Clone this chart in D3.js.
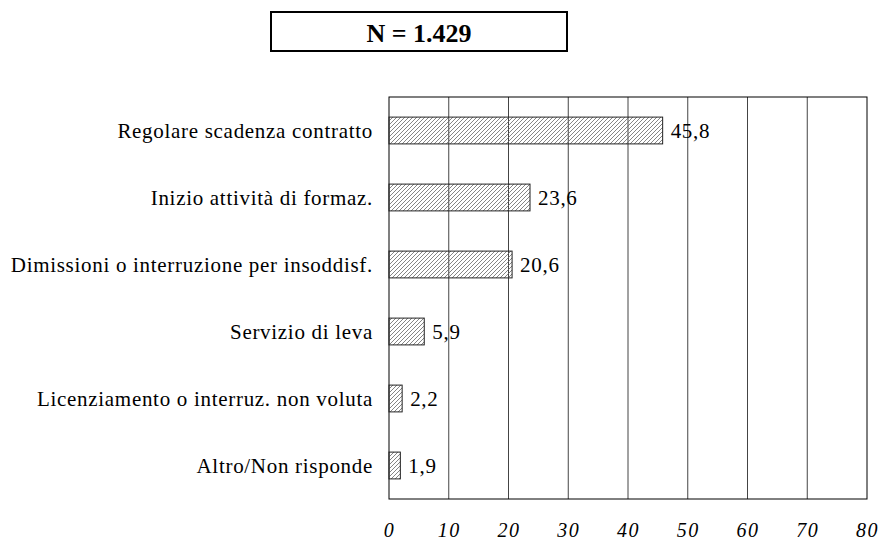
<!DOCTYPE html>
<html lang="en">
<head>
    <meta charset="UTF-8">
    <title>N = 1.429</title>
    <script src="https://d3js.org/d3.v7.min.js"></script>
    <style>
        body { margin: 0; background: #fff; }
    </style>
</head>
<body>
    <div id="chart"></div>
    <script>
        // Data
        var categories = [
            "Regolare scadenza contratto",
            "Inizio attività di formaz.",
            "Dimissioni o interruzione per insoddisf.",
            "Servizio di leva",
            "Licenziamento o interruz. non voluta",
            "Altro/Non risponde"
        ];
        var values = [45.8, 23.6, 20.6, 5.9, 2.2, 1.9];
        var ticks = [0, 10, 20, 30, 40, 50, 60, 70, 80];
        var title = "N = 1.429";

        var serif = "'Liberation Serif', 'Times New Roman', serif";

        var margin = { top: 97, right: 15, bottom: 41, left: 389 },
            W = 882, H = 540,
            width = W - margin.left - margin.right,
            height = H - margin.top - margin.bottom;

        var root = d3.select("#chart").append("svg")
            .attr("width", W)
            .attr("height", H);

        // hatch pattern
        var defs = root.append("defs");
        defs.append("pattern")
            .attr("id", "hatch")
            .attr("patternUnits", "userSpaceOnUse")
            .attr("width", 4)
            .attr("height", 4)
            .append("path")
            .attr("d", "M-1,1 l2,-2 M0,4 l4,-4 M3,5 l2,-2")
            .attr("stroke", "#666")
            .attr("stroke-width", 0.8);

        // title box
        root.append("rect")
            .attr("x", 271).attr("y", 12)
            .attr("width", 296).attr("height", 39)
            .attr("fill", "none")
            .attr("stroke", "#000")
            .attr("stroke-width", 2);
        root.append("text")
            .attr("x", 419).attr("y", 42)
            .attr("text-anchor", "middle")
            .style("font-family", serif)
            .style("font-size", "26px")
            .style("font-weight", "bold")
            .text(title);

        var svg = root.append("g")
            .attr("transform", "translate(" + margin.left + "," + margin.top + ")");

        var x = d3.scaleLinear().domain([0, 80]).range([0, width]);
        var y = d3.scaleBand().domain(categories).range([0, height]).paddingInner(0.6).paddingOuter(0.3);

        // gridlines
        svg.append("g")
            .selectAll("line")
            .data(ticks.slice(1, -1))
            .enter()
            .append("line")
            .attr("x1", d => x(d)).attr("x2", d => x(d))
            .attr("y1", 0).attr("y2", height)
            .attr("stroke", "#444")
            .attr("stroke-width", 1);

        // plot border
        svg.append("rect")
            .attr("width", width).attr("height", height)
            .attr("fill", "none")
            .attr("stroke", "#000")
            .attr("stroke-width", 1);

        // bars
        svg.append("g")
            .selectAll("rect")
            .data(values)
            .enter()
            .append("rect")
            .attr("x", x(0))
            .attr("y", (d, i) => y(categories[i]))
            .attr("width", d => x(d) - x(0))
            .attr("height", y.bandwidth())
            .attr("fill", "url(#hatch)")
            .attr("stroke", "#222")
            .attr("stroke-width", 1);

        // value labels
        svg.append("g")
            .selectAll("text")
            .data(values)
            .enter()
            .append("text")
            .attr("x", d => x(d) + 8)
            .attr("y", (d, i) => y(categories[i]) + y.bandwidth() / 2)
            .attr("dy", "0.35em")
            .style("font-family", serif)
            .style("font-size", "21px")
            .style("letter-spacing", "0.7px")
            .text(d => String(d).replace(".", ","));

        // category labels
        svg.append("g")
            .selectAll("text")
            .data(categories)
            .enter()
            .append("text")
            .attr("x", -16)
            .attr("y", d => y(d) + y.bandwidth() / 2)
            .attr("dy", "0.35em")
            .attr("text-anchor", "end")
            .style("font-family", serif)
            .style("font-size", "21px")
            .style("letter-spacing", "0.7px")
            .text(d => d);

        // x axis tick labels
        var xAxis = svg.append("g")
            .attr("transform", "translate(0," + height + ")")
            .call(d3.axisBottom(x).tickValues(ticks).tickSize(0).tickPadding(24));
        xAxis.select(".domain").remove();
        xAxis.selectAll("text")
            .style("font-family", serif)
            .style("font-size", "20px")
            .style("font-style", "italic")
            .style("letter-spacing", "1.5px")
            .attr("fill", "#000");
    </script>
</body>
</html>
